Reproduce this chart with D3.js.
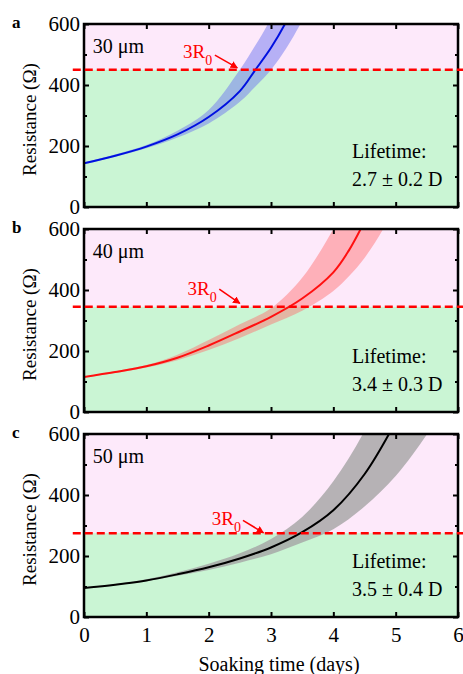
<!DOCTYPE html>
<html>
<head>
<meta charset="utf-8">
<script src="https://cdn.jsdelivr.net/npm/d3@7"></script>
<style>
  body { margin: 0; background: #fff; }
  text { font-family: "Liberation Serif", "Times New Roman", serif; }
</style>
</head>
<body>
<div id="chart"></div>
<script>
// x axis ticks / labels
const dayTicks = [0, 1, 2, 3, 4, 5, 6];
const resTicks = [0, 200, 400, 600];
const resMinorTicks = [100, 300, 500];

// panel a, 30 um
const daysA = [0, 0.5, 1, 1.5, 2, 2.5, 2.75, 3, 3.25, 3.5, 3.75];
const meanA = [143, 168, 198, 238, 295, 380, 450, 522, 610, 720, 850];
const highA = [146, 172, 203, 250, 318, 450, 530, 620, 750, 900, 1050];
const lowA  = [140, 165, 193, 228, 274, 345, 395, 450, 522, 610, 700];

// panel b, 40 um
const daysB = [0, 0.5, 1, 1.5, 2, 2.5, 3, 3.5, 4, 4.25, 4.5, 4.8, 5];
const meanB = [115, 131, 150, 178, 218, 264, 312, 372, 458, 530, 625, 760, 860];
const highB = [117, 134, 154, 188, 236, 288, 340, 440, 600, 700, 805, 950, 1050];
const lowB  = [113, 128, 146, 170, 203, 243, 287, 332, 397, 445, 505, 600, 680];

// panel c, 50 um
const daysC = [0, 0.5, 1, 1.5, 2, 2.5, 3, 3.5, 4, 4.5, 5, 5.5, 5.75];
const meanC = [95, 106, 120, 140, 163, 192, 228, 278, 350, 468, 640, 850, 950];
const highC = [97, 108, 124, 147, 175, 209, 256, 328, 445, 610, 830, 1050, 1150];
const lowC  = [93, 104, 117, 135, 154, 178, 206, 244, 288, 362, 462, 598, 680];

// 3R0 threshold per panel
const thresholds = [450, 345, 275];
const panelLetters = ["a", "b", "c"];
const thicknessLabels = ["30 μm", "40 μm", "50 μm"];
const lifetimeLabels = ["2.7 ± 0.2 D", "3.4 ± 0.3 D", "3.5 ± 0.4 D"];

const W = 463, H = 674;
const left = 84, right = 458;
const panelTops = [24, 229, 434];
const panelH = 183;

const panels = [
    { days: daysA, mean: meanA, high: highA, low: lowA, line: "#0010e0", band: "#6f78f0", bandOp: 0.5,
      lab: [1.59, 488], arrow: [[2.10, 498], [2.46, 456]] },
    { days: daysB, mean: meanB, high: highB, low: lowB, line: "#ff1010", band: "#ff6b6b", bandOp: 0.45,
      lab: [1.66, 382], arrow: [[2.17, 403], [2.50, 356]] },
    { days: daysC, mean: meanC, high: highC, low: lowC, line: "#000000", band: "#a4a4a4", bandOp: 0.8,
      lab: [2.05, 302], arrow: [[2.55, 317], [2.88, 276]] }
];

const svg = d3.select("#chart").append("svg")
    .attr("width", W)
    .attr("height", H);

const defs = svg.append("defs");
defs.append("marker")
    .attr("id", "arrowhead")
    .attr("viewBox", "0 0 10 10")
    .attr("refX", 9).attr("refY", 5)
    .attr("markerWidth", 5).attr("markerHeight", 5)
    .attr("markerUnits", "strokeWidth")
    .attr("orient", "auto")
    .append("path")
    .attr("d", "M0,0 L10,5 L0,10 z")
    .attr("fill", "#ff0000");

const x = d3.scaleLinear().domain([0, 6]).range([left, right]);

function drawPanel(p, i) {
    const top = panelTops[i], bottom = top + panelH;
    const y = d3.scaleLinear().domain([0, 600]).range([bottom, top]);
    const g = svg.append("g");
    const thr = thresholds[i];

    defs.append("clipPath").attr("id", "clip" + i)
        .append("rect")
        .attr("x", left).attr("y", top)
        .attr("width", right - left).attr("height", panelH);

    // background regions
    g.append("rect")
        .attr("x", left).attr("y", y(600))
        .attr("width", right - left).attr("height", y(thr) - y(600))
        .attr("fill", "#fde9fa");
    g.append("rect")
        .attr("x", left).attr("y", y(thr))
        .attr("width", right - left).attr("height", y(0) - y(thr))
        .attr("fill", "#caf5d4");

    const rows = p.days.map((d, k) => ({ t: d, m: p.mean[k], hi: p.high[k], lo: p.low[k] }));
    const plot = g.append("g").attr("clip-path", `url(#clip${i})`);

    // uncertainty band
    plot.append("path")
        .datum(rows)
        .attr("d", d3.area()
            .x(d => x(d.t))
            .y0(d => y(d.lo))
            .y1(d => y(d.hi))
            .curve(d3.curveCatmullRom))
        .attr("fill", p.band)
        .attr("fill-opacity", p.bandOp);

    // mean curve
    plot.append("path")
        .datum(rows)
        .attr("d", d3.line()
            .x(d => x(d.t))
            .y(d => y(d.m))
            .curve(d3.curveCatmullRom))
        .attr("fill", "none")
        .attr("stroke", p.line)
        .attr("stroke-width", 2);

    // axes with inward ticks
    g.append("g").attr("transform", `translate(${left},0)`)
        .call(d3.axisLeft(y).tickValues(resTicks).tickSize(-5).tickPadding(4));
    g.append("g").attr("transform", `translate(${left},0)`)
        .call(d3.axisLeft(y).tickValues(resMinorTicks).tickSize(-3).tickFormat(""));
    g.append("g").attr("transform", `translate(${right},0)`)
        .call(d3.axisRight(y).tickValues(resTicks).tickSize(-5).tickFormat(""));
    g.append("g").attr("transform", `translate(${right},0)`)
        .call(d3.axisRight(y).tickValues(resMinorTicks).tickSize(-3).tickFormat(""));
    g.append("g").attr("transform", `translate(0,${top})`)
        .call(d3.axisTop(x).tickValues(dayTicks).tickSize(-5).tickFormat(""));
    g.append("g").attr("transform", `translate(0,${bottom})`)
        .call(d3.axisBottom(x).tickValues(dayTicks).tickSize(-5).tickPadding(10)
            .tickFormat(i === 2 ? d3.format("d") : ""));

    g.selectAll(".domain").remove();
    g.selectAll(".tick line").attr("stroke", "#000").attr("stroke-width", 2);
    g.selectAll(".tick text").attr("font-size", 21).attr("fill", "#000")
        .attr("font-family", "Liberation Serif");

    // frame
    g.append("rect")
        .attr("x", left).attr("y", top)
        .attr("width", right - left).attr("height", panelH)
        .attr("fill", "none")
        .attr("stroke", "#000")
        .attr("stroke-width", 2.5);

    // 3R0 dashed line, runs a bit past the frame
    g.append("line")
        .attr("x1", x(-0.18)).attr("x2", x(6.2))
        .attr("y1", y(thr)).attr("y2", y(thr))
        .attr("stroke", "#ff0000")
        .attr("stroke-width", 2.5)
        .attr("stroke-dasharray", "8,4");

    const lab = g.append("text")
        .attr("x", x(p.lab[0])).attr("y", y(p.lab[1]))
        .attr("font-size", 19).attr("fill", "#ff0000");
    lab.append("tspan").text("3R");
    lab.append("tspan").text("0").attr("font-size", 14).attr("dy", 7);

    g.append("line")
        .attr("x1", x(p.arrow[0][0])).attr("y1", y(p.arrow[0][1]))
        .attr("x2", x(p.arrow[1][0])).attr("y2", y(p.arrow[1][1]))
        .attr("stroke", "#ff0000")
        .attr("stroke-width", 1.5)
        .attr("marker-end", "url(#arrowhead)");

    // texts
    g.append("text")
        .attr("x", 12).attr("y", top + 4)
        .attr("font-size", 17).attr("font-weight", "bold")
        .text(panelLetters[i]);

    g.append("text")
        .attr("x", x(0.14)).attr("y", top + 29)
        .attr("font-size", 20)
        .text(thicknessLabels[i]);

    g.append("text")
        .attr("x", x(4.3)).attr("y", bottom - 49)
        .attr("font-size", 20)
        .text("Lifetime:");
    g.append("text")
        .attr("x", x(4.3)).attr("y", bottom - 21)
        .attr("font-size", 20)
        .text(lifetimeLabels[i]);

    g.append("text")
        .attr("transform", `translate(36,${(top + bottom) / 2 + 4}) rotate(-90)`)
        .attr("text-anchor", "middle")
        .attr("font-size", 19)
        .text("Resistance (Ω)");
}

panels.forEach(drawPanel);

svg.append("text")
    .attr("x", 279).attr("y", 671)
    .attr("text-anchor", "middle")
    .attr("font-size", 20)
    .text("Soaking time (days)");
</script>
</body>
</html>
